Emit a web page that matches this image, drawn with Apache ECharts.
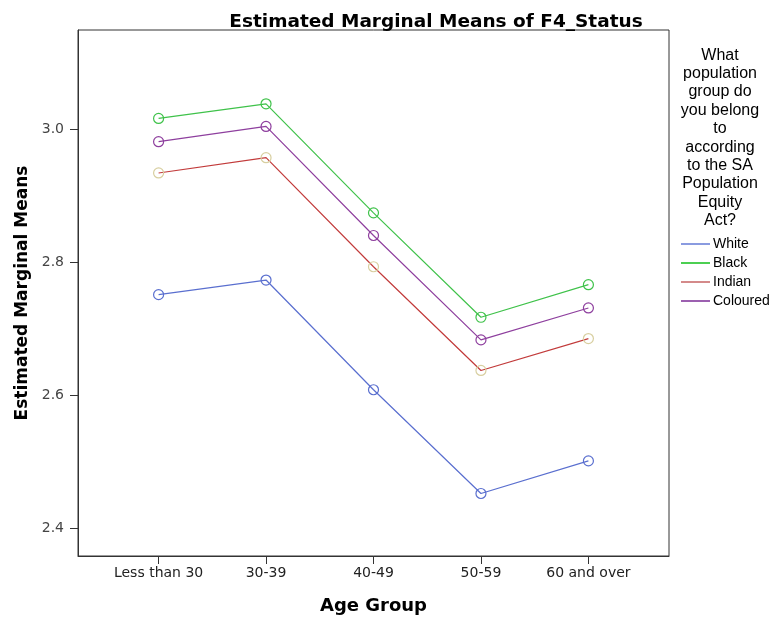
<!DOCTYPE html>
<html><head><meta charset="utf-8">
<script src="https://cdn.jsdelivr.net/npm/echarts@6/dist/echarts.min.js"></script>
<style>html,body{margin:0;padding:0;background:#fff}#c{width:772px;height:619px}</style>
</head><body><div id="c"></div>
<script>
const categories = ["Less than 30", "30-39", "40-49", "50-59", "60 and over"];
const white    = [2.752, 2.774, 2.609, 2.453, 2.502];
const black    = [3.017, 3.039, 2.875, 2.718, 2.767];
const indian   = [2.935, 2.958, 2.794, 2.638, 2.686];
const coloured = [2.982, 3.005, 2.841, 2.684, 2.732];
const yTicks = [2.4, 2.6, 2.8, 3.0];
const legendTitle = ["What", "population", "group do", "you belong", "to", "according", "to the SA", "Population", "Equity", "Act?"];

const arial = "Arial, 'Liberation Sans', sans-serif";
const dv = "'DejaVu Sans', sans-serif";
function mk(name, vals, color, markerColor) {
  return {
    name, type: 'line',
    data: vals.map((v, i) => [i, v]),
    symbol: 'circle', symbolSize: 10,
    lineStyle: { color, width: 1.2 },
    itemStyle: { color: 'transparent', borderColor: markerColor || color, borderWidth: 1.2 },
    color, emphasis: { disabled: true }, z: 3
  };
}
function leg(name, color) {
  return { name, itemStyle: { color, borderWidth: 0, borderColor: color }, lineStyle: { color, width: 2 } };
}
const chart = echarts.init(document.getElementById('c'), null, { renderer: 'canvas' });
chart.setOption({
  animation: false,
  grid: { left: 78, top: 30, right: 103, bottom: 63, show: true, borderColor: '#333', borderWidth: 1, outerBoundsMode: 'none', containLabel: false },
  xAxis: {
    type: 'value', min: -0.75, max: 4.75,
    name: 'Age Group', nameLocation: 'middle', nameGap: 41,
    nameTextStyle: { fontFamily: dv, fontSize: 18, fontWeight: 'bold', color: '#000' },
    splitLine: { show: false },
    axisLine: { show: true, onZero: false, lineStyle: { color: '#333' } },
    axisTick: { show: true, length: 8, customValues: [0, 1, 2, 3, 4], lineStyle: { color: '#333' } },
    axisLabel: { customValues: [0, 1, 2, 3, 4], formatter: v => categories[Math.round(v)], fontFamily: dv, fontSize: 14, color: '#222', margin: 10 }
  },
  yAxis: {
    type: 'value', min: 2.359, max: 3.15,
    name: 'Estimated Marginal Means', nameLocation: 'middle', nameGap: 33,
    nameTextStyle: { fontFamily: dv, fontSize: 17, fontWeight: 'bold', color: '#000' },
    splitLine: { show: false },
    axisLine: { show: true, onZero: false, lineStyle: { color: '#333' } },
    axisTick: { show: true, length: 8, customValues: yTicks, lineStyle: { color: '#333' } },
    axisLabel: { customValues: yTicks, formatter: v => v.toFixed(1), fontFamily: dv, fontSize: 14, color: '#444', margin: 14 }
  },
  legend: {
    orient: 'vertical', left: 676, top: 231,
    itemWidth: 29, itemHeight: 2, itemGap: 3, icon: 'rect',
    itemStyle: { borderWidth: 0 },
    lineStyle: { width: 2 },
    textStyle: { fontFamily: arial, fontSize: 14, color: '#000', padding: [0, 0, 0, -2], lineHeight: 16 },
    data: [leg('White', '#8a9be0'), leg('Black', '#4ccf52'), leg('Indian', '#d48a8a'), leg('Coloured', '#9c60b0')]
  },
  graphic: [
    { type: 'text', x: 436, y: 22,
      style: { text: 'Estimated Marginal Means of F4_Status', font: 'bold 18.5px ' + dv, fill: '#000', align: 'center', verticalAlign: 'middle' } },
    { type: 'text', x: 720, y: 46,
      style: { text: legendTitle.join('\n'), font: '16px ' + arial, fill: '#000', align: 'center', verticalAlign: 'top', lineHeight: 18.4 } }
  ],
  series: [
    mk('White', white, '#5a6fcf'),
    mk('Black', black, '#3fc24a'),
    mk('Indian', indian, '#c23b3b', '#d8cfa0'),
    mk('Coloured', coloured, '#8e3f9e')
  ]
});
</script></body></html>
